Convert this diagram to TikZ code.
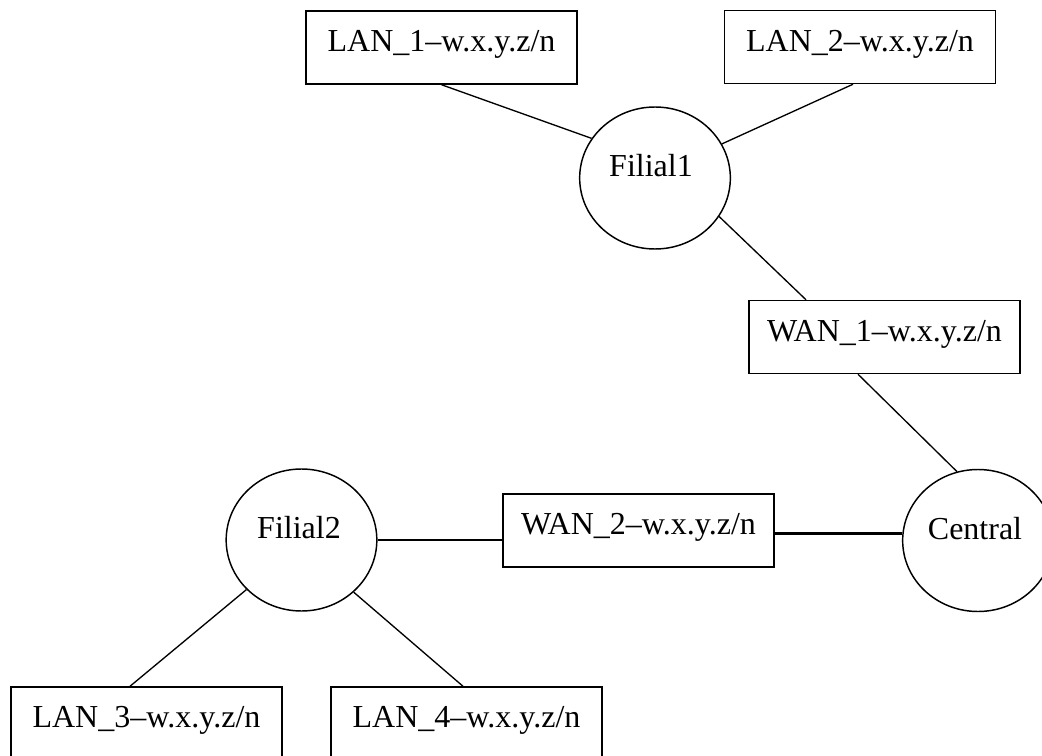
\documentclass[tikz,border=0pt]{standalone}
\usepackage{fontspec}
\setmainfont{Liberation Serif}
\usetikzlibrary{shapes.geometric,calc}
\begin{document}
\begin{tikzpicture}[x=0.75pt,y=-0.75pt,
  netbox/.style={draw,rectangle,line width=1.1pt,inner sep=0pt,
    minimum width=203.25pt,minimum height=54.75pt,
    font=\fontsize{24}{28}\selectfont,text height=14pt,text depth=7.5pt},
  site/.style={draw,ellipse,line width=1.1pt,inner sep=0pt,
    minimum width=113pt,minimum height=106.5pt,
    font=\fontsize{24}{28}\selectfont,text height=7pt,text depth=8.8pt},
  link/.style={line width=1pt},
  thicklink/.style={line width=2.3pt}]
\path[use as bounding box] (0,0) rectangle (1042,756);
\clip (0,0) rectangle (1042,756);
% nodes
\node[netbox] (LAN1) at (441.5,47.5) {LAN\_1–w.x.y.z/n};
\node[netbox] (LAN2) at (860,47) {LAN\_2–w.x.y.z/n};
\node[netbox] (WAN1) at (884.5,337) {WAN\_1–w.x.y.z/n};
\node[netbox] (WAN2) at (638.5,530.5) {WAN\_2–w.x.y.z/n};
\node[netbox] (LAN3) at (146.5,723.5) {LAN\_3–w.x.y.z/n};
\node[netbox] (LAN4) at (466.5,723.5) {LAN\_4–w.x.y.z/n};
\node[site] (F1) at (655,178) {Filial1\kern6pt};
\node[site] (F2) at (301.5,540) {Filial2\kern3.75pt};
\node[site] (C) at (978,540.5) {Central\kern4.5pt};
% connectors
\draw[link] (LAN1.south) -- (F1.148.6);
\draw[link] ($(LAN2.south)+(-7,0)$) -- (F1.27.6);
\draw[link] (F1.-31.4) -- ($(WAN1.north)+(-78.5,0)$);
\draw[link] ($(WAN1.south)+(-26.5,0)$) -- (C.107.6);
\draw[link] (F2.east) -- (F2.east -| WAN2.west);
\draw[thicklink] ($(WAN2.east)+(0,3)$) coordinate (w2e) -- (w2e -| C.west);
\draw[link] (F2.222) -- ($(LAN3.north)+(-16.5,0)$);
\draw[link] (F2.315.3) -- ($(LAN4.north)+(-3.5,0)$);
\end{tikzpicture}
\end{document}
